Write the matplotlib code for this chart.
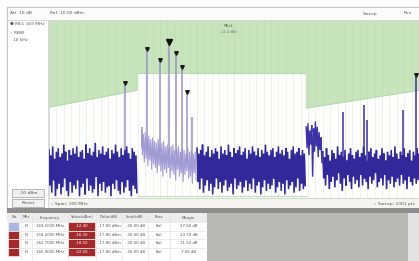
import numpy as np
import matplotlib
matplotlib.use("Agg")
import matplotlib.pyplot as plt
from matplotlib.patches import Rectangle

# ---------------- data ----------------
# frequency axis: 0..100 (relative span units), level axis: dBm
limit_f = [0, 23.8, 23.8, 69.5, 69.5, 100]
limit_db = [-49.0, -39.5, -30.0, -30.0, -49.5, -39.5]

left_start = 0.0
left_hi = [-73, -76, -71, -78, -74, -72, -77, -75, -70, -74, -79, -73, -76, -72, -75, -71,
           -77, -74, -73, -78, -70, -75, -72, -76, -74, -69, -77, -73, -75, -71, -76, -74,
           -72, -78, -73, -75, -70, -74, -77, -72, -76, -73, -71, -75, -78, -72, -74, -76]
left_lo = [-93, -97, -90, -99, -95, -92, -98, -94, -89, -96, -99, -91, -97, -93, -95, -90,
           -99, -94, -92, -98, -89, -96, -93, -97, -95, -88, -99, -92, -96, -91, -97, -94,
           -93, -99, -92, -95, -90, -96, -98, -91, -97, -94, -90, -96, -99, -93, -95, -97]

bump_start = 25.0
bump_hi = [-62, -64, -63, -66, -65, -67, -66, -68, -69, -67, -70, -69, -68, -71, -70,
           -72, -71, -70, -73, -72, -71, -74, -72, -73, -75, -72, -74, -73, -75, -74]
bump_lo = [-76, -80, -78, -82, -79, -84, -81, -83, -86, -82, -85, -88, -84, -86, -83,
           -89, -85, -87, -90, -84, -88, -86, -91, -87, -85, -89, -88, -92, -86, -90]

mid_start = 40.0
mid_hi = [-72, -75, -73, -70, -76, -74, -71, -77, -73, -75, -72, -74, -78, -71, -75,
          -73, -76, -70, -74, -77, -72, -75, -73, -71, -76, -74, -72, -78, -73, -75,
          -71, -74, -76, -72, -77, -73, -75, -70, -74, -76, -73, -72, -77, -74, -71,
          -75, -73, -76, -72, -74, -78, -73, -71, -75, -74, -72, -76, -73, -75]
mid_lo = [-91, -95, -89, -97, -93, -90, -96, -92, -98, -94, -89, -95, -91, -97, -93,
          -90, -96, -94, -92, -98, -89, -95, -93, -91, -97, -94, -90, -96, -92, -95,
          -89, -97, -93, -91, -98, -94, -90, -96, -92, -95, -93, -89, -97, -94, -91,
          -96, -92, -98, -90, -95, -93, -91, -97, -94, -89, -96, -92, -95, -93]

hump_start = 69.5
hump_hi = [-60, -58, -62, -59, -61, -57, -60, -63, -66]
hump_lo = [-72, -76, -70, -88, -74, -71, -77, -73, -80]

right_start = 74.0
right_hi = [-74, -77, -72, -76, -79, -73, -75, -78, -71, -76, -74, -77, -73, -79, -75,
            -72, -76, -78, -74, -73, -77, -75, -71, -76, -79, -74, -72, -77, -75, -73,
            -78, -76, -72, -75, -79, -74, -76, -73, -77, -71, -75, -78, -74, -76, -72,
            -77, -75, -73, -79, -74, -76, -72, -75]
right_lo = [-89, -93, -87, -95, -91, -88, -94, -90, -86, -92, -96, -89, -93, -87, -91,
            -95, -88, -92, -90, -94, -87, -93, -89, -91, -95, -88, -92, -90, -86, -94,
            -91, -89, -93, -87, -95, -90, -92, -88, -94, -91, -89, -93, -87, -92, -90,
            -95, -88, -91, -93, -89, -92, -90, -88]

peak_f = [20.5, 25.1, 26.5, 30.0, 32.4, 34.3, 35.9, 37.3, 38.6, 79.5, 85.1, 85.9, 95.7, 99.2]
peak_db = [-35.4, -60.1, -16.3, -22.5, -12.4, -18.5, -26.4, -40.4, -54.5, -51.7, -47.8, -56.2, -50.6, -30.9]
peak_base = [-80, -72, -72, -74, -75, -76, -78, -80, -80, -82, -82, -82, -82, -82]
marker_f = [20.5, 26.5, 30.0, 34.3, 35.9, 37.3, 99.2]
marker_db = [-35.4, -16.3, -22.5, -18.5, -26.4, -40.4, -30.9]
active_f = [32.4]
active_db = [-12.4]

tbl_header = ["No.", "Mkr", "Frequency", "Value(dBm)", "Delta(dB)", "Limit(dB)", "Pass", "Margin"]
tbl_rows = [
    ["1", "N", "169.5000 MHz", "-12.40", "-17.80 dBm", "-30.00 dB", "Fail", "17.60 dB"],
    ["2", "N", "158.2000 MHz", "-16.30", "-17.80 dBm", "-30.00 dB", "Fail", "13.70 dB"],
    ["3", "N", "162.7000 MHz", "-18.50", "-17.80 dBm", "-30.00 dB", "Fail", "11.50 dB"],
    ["4", "N", "160.9000 MHz", "-22.50", "-17.80 dBm", "-30.00 dB", "Fail", "7.50 dB"],
]

# ---------------- figure ----------------
W, H = 419, 261
fig = plt.figure(figsize=(W / 100, H / 100), dpi=100, facecolor="white")
plt.rcParams["font.family"] = ["DejaVu Sans"]


def px_axes(x0, y0, x1, y1, **kw):
    return fig.add_axes([x0 / W, 1 - y1 / H, (x1 - x0) / W, (y1 - y0) / H], **kw)


# background / chrome axes in pixel units
bg = px_axes(0, 0, W, H)
bg.set_xlim(0, W)
bg.set_ylim(H, 0)
bg.axis("off")
bg.add_patch(Rectangle((7, 7), W - 7, H - 7, facecolor="#f6f6f6", edgecolor="#6e6e6e", lw=0.8))
bg.add_patch(Rectangle((7, 7), W - 7, 13, facecolor="#fbfbfb", edgecolor="#cfcfcf", lw=0.5))
bg.add_patch(Rectangle((7, 20), 41, 188, facecolor="white", edgecolor="#d0d0d0", lw=0.5))
bg.add_patch(Rectangle((49, 198), W - 49, 10, facecolor="#f4f4f0", edgecolor="none"))
bg.add_patch(Rectangle((7, 208), W - 7, 5, facecolor="#8d8d8d", edgecolor="none"))
bg.add_patch(Rectangle((207, 213), 201, 48, facecolor="#b8b8b5", edgecolor="none"))
bg.add_patch(Rectangle((408, 213), 11, 48, facecolor="#e4e4e4", edgecolor="none"))
bg.add_patch(Rectangle((7, 213), 200, 48, facecolor="white", edgecolor="none"))
bg.add_patch(Rectangle((7, 213), 200, 9, facecolor="#ececec", edgecolor="none"))

fs = 3.2
tc = "#555555"
bg.text(10, 13.5, "Att  10 dB", fontsize=fs, color=tc, va="center")
bg.text(50, 13.5, "Ref -10.00 dBm", fontsize=fs, color=tc, va="center")
bg.text(377, 13.5, "Sweep", fontsize=fs, color=tc, va="center", ha="right")
bg.text(412, 13.5, "Run", fontsize=fs, color=tc, va="center", ha="right")
bg.text(10, 24, "\u25cf Mk1 169 MHz", fontsize=fs, color=tc, va="center")
bg.text(10, 33, "\u25e6 RBW", fontsize=fs, color=tc, va="center")
bg.text(13, 40, "10 kHz", fontsize=fs, color=tc, va="center")
bg.add_patch(Rectangle((12, 189), 32, 8, facecolor="#f0f0f0", edgecolor="#9a9a9a", lw=0.5))
bg.text(28, 193, "-10 dBm", fontsize=fs, color=tc, va="center", ha="center")
bg.add_patch(Rectangle((12, 199), 32, 8, facecolor="#f0f0f0", edgecolor="#9a9a9a", lw=0.5))
bg.text(28, 203, "Preset", fontsize=fs, color=tc, va="center", ha="center")
bg.text(51, 203.5, "\u25e6 Span: 100 MHz", fontsize=fs, color=tc, va="center")
bg.text(415, 203.5, "\u25e6 Sweep: 1001 pts", fontsize=fs, color=tc, va="center", ha="right")

# table
col_x = [9, 21, 32, 68, 96, 122, 148, 170, 207]
row_y = [222, 230.5, 239, 247.5, 256]
for i in range(len(tbl_rows)):
    y0 = row_y[i]
    bg.add_patch(Rectangle((8, y0), 11, 8.5, facecolor="#aab6df" if i == 0 else "#a52a2c",
                           edgecolor="white", lw=0.4))
    bg.add_patch(Rectangle((col_x[3], y0), col_x[4] - col_x[3] - 1, 8.5, facecolor="#a52a2c",
                           edgecolor="white", lw=0.4))
    bg.plot([8, 207], [y0, y0], color="#dcdcdc", lw=0.4)
for cx in col_x[1:-1]:
    bg.plot([cx, cx], [213, 261], color="#e0e0e0", lw=0.4)
for j, h in enumerate(tbl_header):
    bg.text((col_x[j] + col_x[j + 1]) / 2, 217.5, h, fontsize=2.8, color=tc, ha="center", va="center")
for i, row in enumerate(tbl_rows):
    for j, v in enumerate(row):
        if j == 0:
            continue
        c = "white" if j == 3 else tc
        bg.text((col_x[j] + col_x[j + 1]) / 2, row_y[i] + 4.3, v, fontsize=2.8, color=c,
                ha="center", va="center")

# ---------------- spectrum plot ----------------
ax = px_axes(49, 20, W, 198)
ax.set_xlim(0, 100)
ax.set_ylim(-100, 0)
ax.set_facecolor("white")
for s in ax.spines.values():
    s.set_color("#c8c8c8")
    s.set_linewidth(0.5)
ax.set_xticks([])
ax.set_yticks([])

ax.fill_between(limit_f, limit_db, 0, color="#c7e4bd", lw=0, zorder=1)
ax.plot(limit_f, limit_db, color="#b3d8a8", lw=0.6, zorder=1.5)
ax.plot([24, 69.5], [-98.8, -98.8], color="#bfe0b4", lw=0.8, zorder=1.5)
for gx in np.arange(2, 100, 2):
    ax.axvline(gx, color="#b5d3ab" if gx % 10 else "#a9c99e", lw=0.4, alpha=0.45, zorder=1.2)


def trace(start, hi, lo, color, lw, z):
    n = min(len(hi), len(lo))
    f = start + 0.5 * np.arange(n)
    xs = np.column_stack([f, f + 0.25]).ravel()
    ys = np.column_stack([hi[:n], lo[:n]]).ravel()
    ax.plot(xs, ys, color=color, lw=lw, zorder=z, solid_joinstyle="miter")


dark = "#33289a"
trace(left_start, left_hi, left_lo, dark, 1.15, 3)
trace(mid_start, mid_hi, mid_lo, dark, 1.15, 3)
trace(right_start, right_hi, right_lo, dark, 1.15, 3)
trace(hump_start, hump_hi, hump_lo, "#3d33a6", 1.0, 3)
trace(bump_start, bump_hi, bump_lo, "#a39bd4", 0.8, 2.5)

pc = ["#9a92c8" if f < 50 else "#3a30a0" for f in peak_f]
ax.vlines(peak_f, peak_base, peak_db, colors=pc, lw=1.1, zorder=2.8)
ax.plot(marker_f, marker_db, "v", color="#1a1a1a", ms=2.6, zorder=5)
ax.plot(active_f, active_db, "v", color="#111111", ms=4.5, zorder=5)

ax.text(48.5, -2.2, "Mkr1", fontsize=2.8, color="#555555", ha="center", va="top")
ax.text(48.5, -5.5, "-12.4 dBm", fontsize=2.4, color="#777777", ha="center", va="top")

fig.savefig("out.png", dpi=100, facecolor=fig.get_facecolor())
